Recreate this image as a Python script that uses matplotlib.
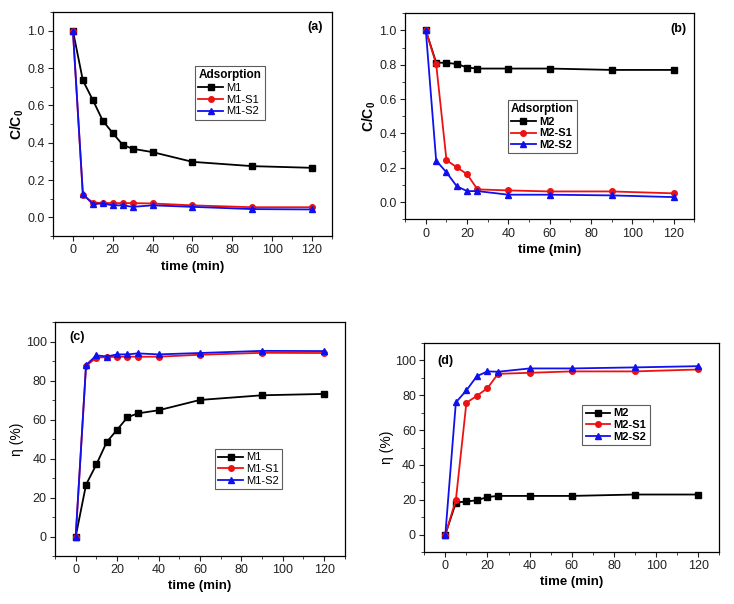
import numpy as np
import matplotlib.pyplot as plt
from matplotlib.ticker import AutoMinorLocator

plt.rcParams['font.family'] = ['Liberation Sans', 'DejaVu Sans']
plt.rcParams['mathtext.fontset'] = 'custom'
plt.rcParams['mathtext.rm'] = 'Liberation Sans'
plt.rcParams['mathtext.bf'] = 'Liberation Sans:bold'

# time points
t1 = [0, 5, 10, 15, 20, 25, 30, 40, 60, 90, 120]
t2 = [0, 5, 10, 15, 20, 25, 40, 60, 90, 120]

# (a) C/C0 for M1 series
a_m1 = [1.0, 0.734, 0.629, 0.518, 0.452, 0.389, 0.368, 0.350, 0.298, 0.275, 0.266]
a_s1 = [1.0, 0.120, 0.080, 0.078, 0.077, 0.077, 0.077, 0.075, 0.065, 0.055, 0.055]
a_s2 = [1.0, 0.125, 0.072, 0.075, 0.065, 0.065, 0.057, 0.065, 0.057, 0.045, 0.043]

# (b) C/C0 for M2 series
b_m2 = [1.0, 0.813, 0.811, 0.805, 0.784, 0.778, 0.778, 0.778, 0.770, 0.770]
b_s1 = [1.0, 0.805, 0.244, 0.203, 0.162, 0.074, 0.068, 0.062, 0.062, 0.051]
b_s2 = [1.0, 0.242, 0.173, 0.092, 0.064, 0.064, 0.043, 0.043, 0.039, 0.029]

# (c) removal efficiency for M1 series
c_m1 = [0, 26.6, 37.0, 48.5, 54.8, 61.2, 63.2, 64.8, 70.1, 72.5, 73.2]
c_s1 = [0, 87.6, 91.8, 92.1, 92.3, 92.3, 92.3, 92.3, 93.3, 94.3, 94.2]
c_s2 = [0, 88.0, 93.0, 92.4, 93.5, 93.5, 94.0, 93.5, 94.2, 95.3, 95.2]

# (d) removal efficiency for M2 series
d_m2 = [0, 18.4, 19.0, 19.7, 21.6, 22.2, 22.2, 22.2, 23.0, 23.0]
d_s1 = [0, 19.9, 75.7, 79.7, 84.1, 92.3, 92.9, 93.7, 93.7, 94.8]
d_s2 = [0, 75.9, 82.8, 91.0, 93.7, 93.5, 95.4, 95.4, 96.0, 96.7]

fig = plt.figure(figsize=(7.34, 6.04), dpi=100)
axa = fig.add_axes([0.0722, 0.609, 0.380, 0.371])
axb = fig.add_axes([0.552, 0.637, 0.394, 0.341])
axc = fig.add_axes([0.0749, 0.0795, 0.395, 0.387])
axd = fig.add_axes([0.578, 0.0861, 0.402, 0.346])

styles = [('k', 's'), ('#ee1111', 'o'), ('#1010ee', '^')]


def draw(ax, t, series, names, ylim, yticks, ylabel, ybold, tag, tagpos,
         legpos, legtitle, legbold):
    for (c, m), y, n in zip(styles, series, names):
        ax.plot(t, y, color=c, marker=m, markersize=4, lw=1.3, label=n)
    ax.set_xlim(-10, 130)
    ax.set_ylim(*ylim)
    ax.set_xticks([0, 20, 40, 60, 80, 100, 120])
    ax.set_yticks(yticks)
    ax.xaxis.set_minor_locator(AutoMinorLocator(2))
    ax.yaxis.set_minor_locator(AutoMinorLocator(2))
    ax.tick_params(which='both', direction='out', top=False, right=False,
                   labelsize=9, colors='#222222', pad=2.5)
    ax.tick_params(which='major', length=3.5)
    ax.tick_params(which='minor', length=2)
    for s in ax.spines.values():
        s.set_linewidth(0.9)
    ax.set_xlabel('time (min)', fontsize=9.5, fontweight='bold', labelpad=3)
    ax.set_ylabel(ylabel, fontsize=10, fontweight='bold' if ybold else 'normal',
                  labelpad=1)
    ax.text(tagpos[0], tagpos[1], tag, transform=ax.transAxes, fontsize=9,
            fontweight='bold', ha='center', va='center')
    leg = ax.legend(loc='upper left', bbox_to_anchor=legpos, title=legtitle,
                    fontsize=8, frameon=True, fancybox=False,
                    edgecolor='#333333', handlelength=2.2, handletextpad=0.3,
                    borderpad=0.3, labelspacing=0.15, borderaxespad=0)
    leg.get_frame().set_linewidth(0.8)
    if legtitle:
        leg.get_title().set_fontweight('bold')
        leg.get_title().set_fontsize(8.5)
        leg._legend_box.align = 'left'
    if legbold:
        for tx in leg.get_texts():
            tx.set_fontweight('bold')


draw(axa, t1, [a_m1, a_s1, a_s2], ['M1', 'M1-S1', 'M1-S2'],
     (-0.1, 1.1), [0.0, 0.2, 0.4, 0.6, 0.8, 1.0], 'C/C$_\\mathbf{0}$', True,
     '(a)', (0.94, 0.933), (0.509, 0.759), 'Adsorption', False)
draw(axb, t2, [b_m2, b_s1, b_s2], ['M2', 'M2-S1', 'M2-S2'],
     (-0.1, 1.1), [0.0, 0.2, 0.4, 0.6, 0.8, 1.0], 'C/C$_\\mathbf{0}$', True,
     '(b)', (0.945, 0.922), (0.355, 0.58), 'Adsorption', True)
draw(axc, t1, [c_m1, c_s1, c_s2], ['M1', 'M1-S1', 'M1-S2'],
     (-10, 110), [0, 20, 40, 60, 80, 100], 'η (%)', False,
     '(c)', (0.076, 0.936), (0.552, 0.457), None, False)
draw(axd, t2, [d_m2, d_s1, d_s2], ['M2', 'M2-S1', 'M2-S2'],
     (-10, 110), [0, 20, 40, 60, 80, 100], 'η (%)', False,
     '(d)', (0.071, 0.914), (0.536, 0.703), None, True)

fig.savefig('out.png', dpi=100)
